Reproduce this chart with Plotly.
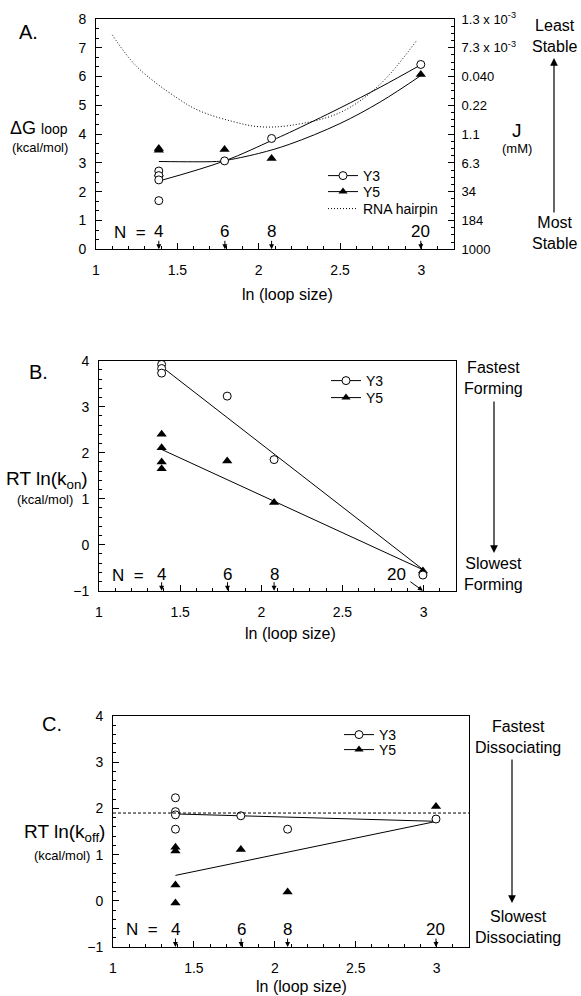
import plotly.graph_objects as go

# ---------------- data ----------------
# Panel A: Delta G loop (kcal/mol)
a_y3_x = [1.386, 1.386, 1.386, 1.386, 1.79, 2.079, 2.996]
a_y3_y = [2.72, 2.56, 2.41, 1.69, 3.07, 3.85, 6.42]
a_y5_x = [1.386, 1.386, 1.386, 1.79, 2.079, 2.996]
a_y5_y = [3.50, 3.44, 2.62, 3.47, 3.15, 6.07]
a_y3_fit_x = [1.386, 1.79, 2.08, 2.19, 2.5, 2.75, 3.0]
a_y3_fit_y = [2.37, 3.07, 3.78, 4.06, 4.91, 5.64, 6.42]
a_y5_fit_x = [1.386, 1.6, 1.74, 1.79, 2.0, 2.19, 2.5, 2.75, 3.0]
a_y5_fit_y = [3.05, 3.04, 3.05, 3.08, 3.33, 3.65, 4.37, 5.13, 6.05]
hairpin_x = [1.1, 1.25, 1.5, 1.64, 1.84, 2.0, 2.19, 2.5, 2.74, 2.97]
hairpin_y = [7.45, 6.35, 5.25, 4.8, 4.44, 4.26, 4.3, 4.75, 5.7, 7.25]
j_tickvals = [0, 1, 2, 3, 4, 5, 6, 7, 8]
j_ticktext = ["1000", "184", "34", "6.3", "1.1", "0.22", "0.040",
              "7.3 x 10<sup>-3</sup>", "1.3 x 10<sup>-3</sup>"]

# Panel B: RT ln(k_on)
b_y3_x = [1.386, 1.386, 1.386, 1.79, 2.079, 2.996]
b_y3_y = [3.92, 3.83, 3.73, 3.23, 1.85, -0.66]
b_y5_x = [1.386, 1.386, 1.386, 1.386, 1.79, 2.079, 2.996]
b_y5_y = [2.40, 2.11, 1.80, 1.65, 1.82, 0.92, -0.57]
b_y3_fit_x = [1.386, 3.0]
b_y3_fit_y = [3.87, -0.55]
b_y5_fit_x = [1.386, 3.0]
b_y5_fit_y = [2.07, -0.55]

# Panel C: RT ln(k_off)
c_y3_x = [1.386, 1.386, 1.386, 1.386, 1.79, 2.079, 2.996]
c_y3_y = [2.23, 1.93, 1.86, 1.55, 1.84, 1.55, 1.77]
c_y5_x = [1.386, 1.386, 1.386, 1.386, 1.79, 2.079, 2.996]
c_y5_y = [1.16, 1.08, 0.34, -0.05, 1.11, 0.19, 2.04]
c_y3_fit_x = [1.386, 3.0]
c_y3_fit_y = [1.88, 1.72]
c_y5_fit_x = [1.386, 3.0]
c_y5_fit_y = [0.55, 1.72]
c_ref_level = 1.9

loop_N = ["4", "6", "8", "20"]
loop_lnN = [1.386, 1.792, 2.079, 2.996]

# ---------------- style ----------------
FONT = "Liberation Sans, Arial, Helvetica, sans-serif"
W, H = 581, 996
def px(x):
    return x / W
def py(y):
    return 1 - y / H

circle = dict(symbol="circle", size=8, color="white", line=dict(color="black", width=1))
tri = dict(symbol="triangle-up", size=9, color="black", line=dict(color="black", width=0))
fitline = dict(color="black", width=1)
dotline = dict(color="black", width=1, dash="1px,2px")

fig = go.Figure()

def add_panel(xa, ya, y3x, y3y, y5x, y5y, f3x, f3y, f5x, f5y, shape="linear"):
    fig.add_trace(go.Scatter(x=f3x, y=f3y, mode="lines", line=dict(fitline, shape=shape),
                             xaxis=xa, yaxis=ya, showlegend=False, hoverinfo="skip"))
    fig.add_trace(go.Scatter(x=f5x, y=f5y, mode="lines", line=dict(fitline, shape=shape),
                             xaxis=xa, yaxis=ya, showlegend=False, hoverinfo="skip"))
    fig.add_trace(go.Scatter(x=y5x, y=y5y, mode="markers", marker=tri, xaxis=xa, yaxis=ya,
                             showlegend=False, name="Y5"))
    fig.add_trace(go.Scatter(x=y3x, y=y3y, mode="markers", marker=circle, xaxis=xa, yaxis=ya,
                             showlegend=False, name="Y3"))

# Panel A
fig.add_trace(go.Scatter(x=hairpin_x, y=hairpin_y, mode="lines", xaxis="x", yaxis="y",
                         line=dict(dotline, shape="spline"), showlegend=False))
add_panel("x", "y", a_y3_x, a_y3_y, a_y5_x, a_y5_y, a_y3_fit_x, a_y3_fit_y,
          a_y5_fit_x, a_y5_fit_y, shape="spline")
fig.add_trace(go.Scatter(x=[None], y=[None], xaxis="x", yaxis="y4", showlegend=False))
# Panel B
add_panel("x2", "y2", b_y3_x, b_y3_y, b_y5_x, b_y5_y, b_y3_fit_x, b_y3_fit_y, b_y5_fit_x, b_y5_fit_y)
# Panel C
add_panel("x3", "y3", c_y3_x, c_y3_y, c_y5_x, c_y5_y, c_y3_fit_x, c_y3_fit_y, c_y5_fit_x, c_y5_fit_y)

# legend entries: one legend per entry for exact placement
leg_specs = [  # (legend id, name, kind, x_px, y_center_px)
    ("legend", "Y3", "c", 323, 176),
    ("legend4", "Y5", "t", 323, 192),
    ("legend5", "RNA hairpin", "d", 323, 209),
    ("legend2", "Y3", "c", 326, 381),
    ("legend6", "Y5", "t", 326, 398),
    ("legend3", "Y3", "c", 339, 735),
    ("legend7", "Y5", "t", 339, 750),
]
leg_layout = {}
for lg, name, kind, lx, ly in leg_specs:
    if kind == "c":
        tr = go.Scatter(x=[None], y=[None], mode="lines+markers", name=name, marker=circle,
                        line=fitline, legend=lg, xaxis="x", yaxis="y")
    elif kind == "t":
        tr = go.Scatter(x=[None], y=[None], mode="lines+markers", name=name,
                        marker=dict(symbol="triangle-up", size=8, color="black"),
                        line=fitline, legend=lg, xaxis="x", yaxis="y")
    else:
        tr = go.Scatter(x=[None], y=[None], mode="lines", name=name, line=dotline,
                        legend=lg, xaxis="x", yaxis="y")
    fig.add_trace(tr)
    leg_layout[lg] = dict(x=px(lx), y=py(ly), xanchor="left", yanchor="middle",
                          bgcolor="rgba(0,0,0,0)", borderwidth=0, itemwidth=30,
                          font=dict(size=14, color="black", family=FONT))

# reference dashed line in panel C
fig.add_shape(type="line", xref="x3 domain", yref="y3", x0=0, x1=1, y0=c_ref_level, y1=c_ref_level,
              line=dict(color="black", width=1, dash="3px,2px"))

def xaxis(dom, anchor):
    return dict(domain=dom, anchor=anchor, range=[1, 3.2], tickvals=[1, 1.5, 2, 2.5, 3],
                ticktext=["1", "1.5", "2", "2.5", "3"],
                ticks="inside", ticklen=6, tickwidth=1, tickcolor="black",
                minor=dict(ticks="inside", ticklen=3, dtick=0.1, tickcolor="black"),
                showline=True, linecolor="black", linewidth=1, mirror=True,
                showgrid=False, zeroline=False, ticklabelstandoff=8, automargin=False,
                tickfont=dict(size=14, color="black", family=FONT))

def yaxis(dom, anchor, rng, mdt):
    return dict(domain=dom, anchor=anchor, range=rng, dtick=1,
                ticks="inside", ticklen=6, tickwidth=1, tickcolor="black",
                minor=dict(ticks="inside", ticklen=3, dtick=mdt, tickcolor="black"),
                showline=True, linecolor="black", linewidth=1, mirror=True,
                showgrid=False, zeroline=False, ticklabelstandoff=6, automargin=False,
                tickfont=dict(size=14, color="black", family=FONT))

domA_x = [px(96), px(454)]; domA_y = [py(249.3), py(19)]
domB_x = [px(99), px(456)]; domB_y = [py(590.7), py(360.7)]
domC_x = [px(113), px(469)]; domC_y = [py(947), py(716)]

fig.update_layout(
    width=W, height=H, margin=dict(l=0, r=0, t=0, b=0, autoexpand=False),
    paper_bgcolor="white", plot_bgcolor="white",
    font=dict(family=FONT, color="black"),
    xaxis=xaxis(domA_x, "y"),
    yaxis=yaxis(domA_y, "x", [0, 8], 1/3),
    yaxis4=dict(overlaying="y", side="right", anchor="x", range=[0, 8],
                tickvals=j_tickvals, ticktext=j_ticktext, ticks="inside", ticklen=6,
                tickcolor="black", minor=dict(ticks="inside", ticklen=3, dtick=0.25, tickcolor="black"),
                showline=True, linecolor="black", showgrid=False, zeroline=False, automargin=False,
                ticklabelstandoff=4, tickfont=dict(size=13, color="black", family=FONT)),
    xaxis2=xaxis(domB_x, "y2"),
    yaxis2=yaxis(domB_y, "x2", [-1, 4], 0.2),
    xaxis3=xaxis(domC_x, "y3"),
    yaxis3=yaxis(domC_y, "x3", [-1, 4], 0.2),
    **leg_layout,
)

ann = []
def text(x, y, t, size=16, xanchor="center"):
    ann.append(dict(xref="paper", yref="paper", x=px(x), y=py(y), text=t, showarrow=False,
                    xanchor=xanchor, yanchor="middle", font=dict(size=size, color="black", family=FONT)))

# panel letters
text(28, 32, "A.", 20)
text(38, 372, "B.", 20)
text(52, 724, "C.", 20)

# y-axis titles
text(39, 128, "ΔG <span style='font-size:14px'>loop</span>", 18)
text(40, 148, "(kcal/mol)", 13)
text(47, 480, "RT ln(k<sub>on</sub>)", 19)
text(45, 499, "(kcal/mol)", 13)
text(64, 833, "RT ln(k<sub>off</sub>)", 19)
text(62, 855, "(kcal/mol)", 13)

# J axis title
text(517, 131, "J", 19)
text(517, 149, "(mM)", 13)

# x-axis titles
text(287, 294, "ln (loop size)", 16)
text(290, 633, "ln (loop size)", 16)
text(301, 986, "ln (loop size)", 16)

# side texts
text(554, 36, "Least<br>Stable", 16)
text(554, 233, "Most<br>Stable", 16)
text(493, 378, "Fastest<br>Forming", 16)
text(494, 574, "Slowest<br>Forming", 16)
text(473, 737, "Fastest<br>Dissociating", 16, "left")
text(473, 927, "Slowest<br>Dissociating", 16, "left")

# side arrows
def arrow(x, yhead, ytail):
    ann.append(dict(xref="paper", yref="paper", x=px(x), y=py(yhead), ax=0, ay=ytail - yhead,
                    axref="pixel", ayref="pixel", text="", showarrow=True,
                    arrowhead=2, arrowsize=1.3, arrowwidth=1.2, arrowcolor="black"))
arrow(554, 58, 214)
arrow(494, 553, 400)
arrow(512, 903, 758)

# N labels: number text above the axis plus a small arrow pointing down to it
def nlabels(xa, ya, ymin, nx, ny, special20=None, lift=18):
    ann.append(dict(xref=xa, yref=ya, x=nx, y=ny, text="N&nbsp;&nbsp;=", showarrow=False,
                    font=dict(size=17, color="black", family=FONT)))
    for n, lx in zip(loop_N, loop_lnN):
        tx, ty, arx, ary = 0, lift, 0, -10
        if n == "20" and special20 is not None:
            tx, ty, arx, ary = special20
        ann.append(dict(xref=xa, yref=ya, x=lx, y=ymin, text=n, showarrow=False,
                        xshift=tx, yshift=ty, yanchor="middle",
                        font=dict(size=17, color="black", family=FONT)))
        ann.append(dict(xref=xa, yref=ya, x=lx, y=ymin, text="", showarrow=True,
                        ax=arx, ay=ary, axref="pixel", ayref="pixel",
                        arrowhead=2, arrowsize=1, arrowwidth=1, arrowcolor="black", standoff=0))

nlabels("x", "y", 0, 1.21, 0.6)
nlabels("x2", "y2", -1, 1.18, -0.66, special20=(-26, 16, -14, -10), lift=16)
nlabels("x3", "y3", -1, 1.177, -0.62)

fig.update_layout(annotations=ann)
fig.write_html("out.html", config={"displayModeBar": False},
               post_script="document.body.style.margin='0';document.body.style.overflow='hidden';")
